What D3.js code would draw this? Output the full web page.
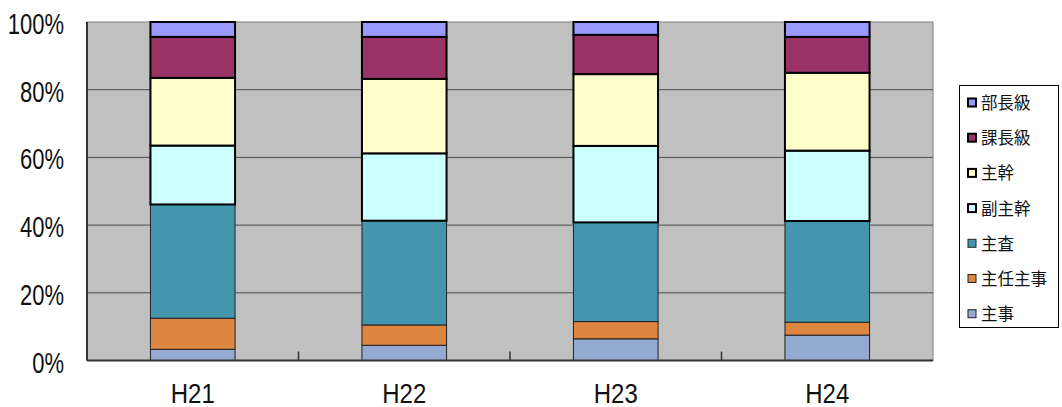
<!DOCTYPE html>
<html>
<head>
<meta charset="utf-8">
<script src="https://cdn.jsdelivr.net/npm/d3@7"></script>
<style>
  html, body { margin: 0; padding: 0; background: #fff; }
  svg { display: block; }
</style>
</head>
<body>
<svg id="chart" width="1062" height="407"></svg>
<script>
const categories = ["H21", "H22", "H23", "H24"];
const seriesNames = ["主事", "主任主事", "主査", "副主幹", "主幹", "課長級", "部長級"];
const shuji      = [3.3, 4.5, 6.4, 7.5];
const shuninShuji = [9.2, 6.0, 5.1, 3.8];
const shusa      = [33.6, 30.8, 29.3, 29.9];
const fukuShukan = [17.4, 19.9, 22.6, 20.8];
const shukan     = [20.0, 22.0, 21.2, 23.0];
const kachokyu   = [12.1, 12.4, 11.6, 10.6];
const buchokyu   = [4.4, 4.4, 3.8, 4.4];
const yTicks = [0, 20, 40, 60, 80, 100];
const yTickLabels = ["0%", "20%", "40%", "60%", "80%", "100%"];

const seriesValues = [shuji, shuninShuji, shusa, fukuShukan, shukan, kachokyu, buchokyu];
const colors = ["#95aad0", "#dd8640", "#4396ad", "#ccffff", "#ffffcc", "#993366", "#9999ff"];
const thick = [false, false, false, true, true, true, true];

const rows = categories.map((c, i) => {
  const r = { cat: c };
  seriesNames.forEach((s, j) => r[s] = seriesValues[j][i]);
  return r;
});
const stacked = d3.stack().keys(seriesNames)(rows);

const svg = d3.select("#chart");
const L = 87, R = 933, T = 22, B = 360.5;

const x = d3.scaleBand().domain(categories).range([L, R]).paddingInner(0.6).paddingOuter(0.3);
const xOuter = d3.scaleBand().domain(categories).range([L, R]);
const y = d3.scaleLinear().domain([0, 100]).range([B, T]);

// plot background
svg.append("rect").attr("x", L).attr("y", T).attr("width", R - L).attr("height", B - T)
  .attr("fill", "#c0c0c0").attr("stroke", "#808080").attr("stroke-width", 1);

// gridlines
svg.append("g").selectAll("line").data(yTicks.filter(d => d > 0 && d < 100)).join("line")
  .attr("x1", L).attr("x2", R).attr("y1", d => y(d)).attr("y2", d => y(d))
  .attr("stroke", "#4a4a4a").attr("stroke-width", 1);

// category tick marks
svg.append("g").selectAll("line").data(categories.slice(1)).join("line")
  .attr("x1", d => xOuter(d)).attr("x2", d => xOuter(d))
  .attr("y1", B).attr("y2", B - 9)
  .attr("stroke", "#333").attr("stroke-width", 1.5);

// bars: thin-bordered first, then thick
const order = [0, 1, 2, 3, 4, 5, 6];
const drawLayer = (idx) => {
  const layer = stacked[idx];
  svg.append("g").selectAll("rect").data(layer).join("rect")
    .attr("x", d => x(d.data.cat))
    .attr("y", d => y(d[1]))
    .attr("width", x.bandwidth())
    .attr("height", d => y(d[0]) - y(d[1]))
    .attr("fill", colors[idx])
    .attr("stroke", thick[idx] ? "#000" : "#222")
    .attr("stroke-width", thick[idx] ? 2 : 1);
};
order.filter(i => !thick[i]).forEach(drawLayer);
order.filter(i => thick[i]).forEach(drawLayer);

// axes lines
svg.append("line").attr("x1", L).attr("x2", L).attr("y1", T).attr("y2", B)
  .attr("stroke", "#333").attr("stroke-width", 2);
svg.append("line").attr("x1", L).attr("x2", R).attr("y1", B).attr("y2", B)
  .attr("stroke", "#333").attr("stroke-width", 2);

// y labels
svg.append("g").selectAll("text").data(yTicks).join("text")
  .attr("transform", d => `translate(64,${y(d) + 12}) scale(1,1.3)`)
  .attr("text-anchor", "end")
  .attr("font-family", "Liberation Sans, Arial, sans-serif")
  .attr("font-size", 22).attr("fill", "#111")
  .text((d, i) => yTickLabels[i]);

// x labels
svg.append("g").selectAll("text").data(categories).join("text")
  .attr("transform", d => `translate(${x(d) + x.bandwidth() / 2},403) scale(1,1.15)`)
  .attr("text-anchor", "middle")
  .attr("font-family", "Liberation Sans, Arial, sans-serif")
  .attr("font-size", 24).attr("fill", "#111")
  .text(d => d);

// legend
const lg = svg.append("g");
lg.append("rect").attr("x", 959.5).attr("y", 85.5).attr("width", 99).attr("height", 242)
  .attr("fill", "#fff").attr("stroke", "#000").attr("stroke-width", 1);
const legendOrder = [6, 5, 4, 3, 2, 1, 0];
legendOrder.forEach((idx, k) => {
  const cy = 103 + k * 35.2;
  lg.append("rect").attr("x", 968).attr("y", cy - 4.5).attr("width", 8).attr("height", 8)
    .attr("fill", colors[idx])
    .attr("stroke", thick[idx] ? "#000" : "#222")
    .attr("stroke-width", thick[idx] ? 2 : 1);
  lg.append("text").attr("x", 981).attr("y", cy + 6)
    .attr("font-family", "Noto Sans CJK JP, sans-serif")
    .attr("font-size", 16.5).attr("fill", "#111")
    .text(seriesNames[idx]);
});
</script>
</body>
</html>
